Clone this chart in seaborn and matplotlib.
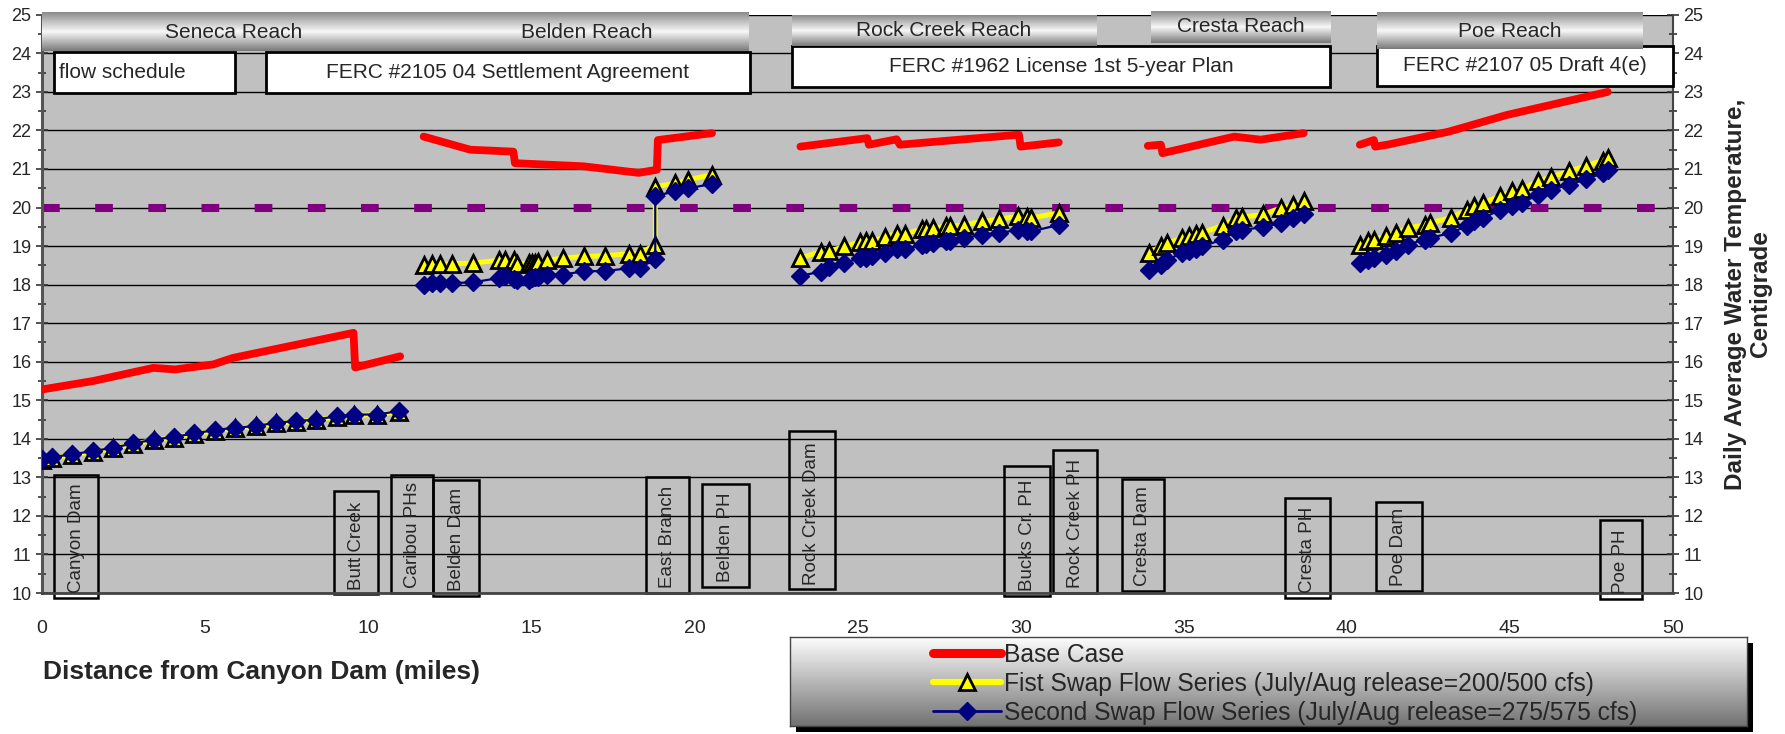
import numpy as np
import pandas as pd
import matplotlib
matplotlib.use('Agg')
import matplotlib.pyplot as plt
from matplotlib.patches import Rectangle
from matplotlib.lines import Line2D
import seaborn as sns

# ---- data ----
# Base case (red), one line per reach
base_reach = (['Seneca'] * 9 + ['Belden'] * 9 + ['Rock'] * 8
              + ['Cresta'] * 6 + ['Poe'] * 7)
base_mile = [0.0, 1.57, 3.41, 4.08, 5.25, 5.86, 9.55, 9.6, 10.98,
             11.7, 13.13, 14.45, 14.5, 16.6, 18.29, 18.85, 18.88, 20.54,
             23.25, 25.3, 25.35, 26.2, 26.3, 29.95, 30.0, 31.17,
             33.9, 34.3, 34.35, 36.55, 37.36, 38.68,
             40.4, 40.83, 40.87, 41.24, 43.13, 44.9, 48.0]
base_temp = [15.28, 15.5, 15.84, 15.8, 15.93, 16.1, 16.75, 15.85, 16.14,
             21.84, 21.5, 21.45, 21.15, 21.07, 20.9, 20.98, 21.75, 21.93,
             21.58, 21.8, 21.63, 21.77, 21.63, 21.89, 21.58, 21.69,
             21.6, 21.63, 21.41, 21.84, 21.76, 21.93,
             21.63, 21.75, 21.58, 21.63, 21.97, 22.4, 23.0]

# Swap flow series (same stations for both)
swap_reach = (['Seneca'] * 19 + ['Belden'] * 24 + ['Rock'] * 22
              + ['Cresta'] * 14 + ['Poe'] * 21)
swap_mile = [0.0, 0.3, 0.91, 1.55, 2.18, 2.8, 3.43, 4.05, 4.67, 5.31,
             5.92, 6.55, 7.18, 7.79, 8.41, 9.04, 9.55, 10.27, 10.93,
             11.7, 11.95, 12.19, 12.57, 13.21, 14.0, 14.2, 14.46, 14.56, 14.92,
             15.02, 15.12, 15.22, 15.48, 15.97, 16.63, 17.27, 18.01, 18.32, 18.8,
             18.8, 19.42, 19.8, 20.54,
             23.23, 23.87, 24.12, 24.6, 25.07, 25.25, 25.45, 25.83, 26.2, 26.47,
             26.99, 27.11, 27.32, 27.7, 27.83, 28.27, 28.83, 29.34, 29.92, 30.21,
             30.33, 31.17,
             33.94, 34.29, 34.5, 34.96, 35.16, 35.37, 35.57, 36.19, 36.6, 36.8,
             37.42, 37.99, 38.36, 38.68,
             40.4, 40.66, 40.82, 41.19, 41.51, 41.87, 42.4, 42.55, 43.18, 43.7,
             43.91, 44.18, 44.7, 45.07, 45.38, 45.86, 46.27, 46.8, 47.32, 47.84, 48.0]
swap1_temp = [13.46, 13.5, 13.58, 13.66, 13.75, 13.86, 13.96, 14.03, 14.12, 14.21,
              14.27, 14.32, 14.4, 14.44, 14.49, 14.57, 14.61, 14.62, 14.7,
              18.52, 18.53, 18.53, 18.54, 18.56, 18.63, 18.65, 18.65, 18.54, 18.56,
              18.56, 18.57, 18.58, 18.63, 18.69, 18.73, 18.75, 18.8, 18.8, 19.04,
              20.54, 20.63, 20.72, 20.85,
              18.69, 18.85, 18.86, 18.99, 19.1, 19.12, 19.12, 19.24, 19.32, 19.32,
              19.44, 19.44, 19.47, 19.51, 19.51, 19.55, 19.64, 19.7, 19.77, 19.75,
              19.73, 19.86,
              18.82, 18.99, 19.08, 19.21, 19.25, 19.32, 19.35, 19.53, 19.73, 19.75,
              19.82, 19.99, 20.07, 20.16,
              19.04, 19.12, 19.17, 19.25, 19.34, 19.47, 19.55, 19.6, 19.73, 19.94,
              20.03, 20.12, 20.3, 20.42, 20.48, 20.68, 20.79, 20.94, 21.08, 21.22, 21.28]
swap2_temp = [13.47, 13.52, 13.6, 13.68, 13.77, 13.88, 13.98, 14.05, 14.14, 14.23,
              14.29, 14.33, 14.42, 14.46, 14.5, 14.59, 14.63, 14.63, 14.72,
              18.0, 18.04, 18.04, 18.04, 18.06, 18.17, 18.22, 18.15, 18.13, 18.13,
              18.16, 18.2, 18.2, 18.26, 18.26, 18.35, 18.35, 18.43, 18.43, 18.66,
              20.3, 20.42, 20.5, 20.61,
              18.22, 18.34, 18.47, 18.56, 18.69, 18.69, 18.73, 18.82, 18.92, 18.92,
              19.04, 19.06, 19.08, 19.12, 19.12, 19.21, 19.3, 19.34, 19.42, 19.38,
              19.38, 19.55,
              18.39, 18.52, 18.65, 18.82, 18.86, 18.92, 18.99, 19.17, 19.38, 19.42,
              19.49, 19.6, 19.73, 19.82,
              18.56, 18.65, 18.69, 18.78, 18.86, 19.04, 19.17, 19.21, 19.34, 19.53,
              19.64, 19.73, 19.94, 20.03, 20.13, 20.33, 20.46, 20.59, 20.73, 20.89, 20.98]

target_temp = 20

# landmarks along the river (mile span and box height in deg C)
site_names = ['Canyon Dam', 'Butt Creek', 'Caribou PHs', 'Belden Dam', 'East Branch',
              'Belden PH', 'Rock Creek Dam', 'Bucks Cr. PH', 'Rock Creek PH',
              'Cresta Dam', 'Cresta PH', 'Poe Dam', 'Poe PH']
site_left = [0.38, 8.96, 10.7, 11.99, 18.52, 20.23, 22.9, 29.5, 31.0, 33.1, 38.1, 40.9, 47.75]
site_right = [1.71, 10.3, 11.99, 13.4, 19.84, 21.66, 24.3, 30.9, 32.35, 34.4, 39.5, 42.3, 49.06]
site_top = [13.06, 12.64, 13.06, 12.93, 13.0, 12.84, 14.2, 13.3, 13.7, 12.95, 12.47, 12.35, 11.9]
site_bottom = [9.88, 9.97, 10.0, 9.93, 10.0, 10.16, 10.1, 9.93, 10.0, 10.05, 9.87, 10.05, 9.85]

reach_names = ['Seneca Reach', 'Belden Reach', 'Rock Creek Reach', 'Cresta Reach', 'Poe Reach']
reach_start = [0.0, 11.75, 22.98, 34.0, 40.92]
reach_end = [11.75, 21.68, 32.3, 39.5, 49.05]
reach_top = [25.05, 25.05, 25.0, 25.1, 25.05]
reach_bottom = [24.05, 24.05, 24.2, 24.27, 24.1]

plan_names = ['flow schedule', 'FERC #2105 04 Settlement Agreement',
              'FERC #1962 License 1st 5-year Plan', 'FERC #2107 05 Draft 4(e)']
plan_start = [0.38, 6.87, 22.98, 40.92]
plan_end = [5.92, 21.7, 39.5, 50.0]
plan_top = [24.04, 24.04, 24.19, 24.2]
plan_bottom = [22.97, 22.97, 23.12, 23.15]

legend_labels = ['Base Case',
                 'Fist Swap Flow Series (July/Aug release=200/500 cfs)',
                 'Second Swap Flow Series (July/Aug release=275/575 cfs)']

# ---- plot ----
sns.set_style('white')
plt.rcParams['font.family'] = ['Liberation Sans', 'DejaVu Sans']

base_df = pd.DataFrame({'reach': base_reach, 'mile': base_mile, 'temp': base_temp})
swap_df = pd.DataFrame({'reach': swap_reach, 'mile': swap_mile,
                        'swap1': swap1_temp, 'swap2': swap2_temp})

W, H = 1785, 734
fig = plt.figure(figsize=(W / 100, H / 100), dpi=100)
ax = fig.add_axes([42 / W, 1 - 593 / H, (1673 - 42) / W, (593 - 14.8) / H])
ax.set_facecolor('#c0c0c0')

ax.axhline(target_temp, color='#800080', lw=5.8, dashes=(2.2, 4.4),
           dash_capstyle='butt', zorder=2)

sns.lineplot(data=base_df, x='mile', y='temp', units='reach', estimator=None, sort=False,
             color='red', lw=5.6, solid_capstyle='round', solid_joinstyle='round',
             ax=ax, zorder=3)
sns.lineplot(data=swap_df, x='mile', y='swap1', units='reach', estimator=None, sort=False,
             color='yellow', lw=3.6, marker='^', markersize=11.5, markerfacecolor='yellow',
             markeredgecolor='black', markeredgewidth=2, ax=ax, zorder=4)
sns.lineplot(data=swap_df, x='mile', y='swap2', units='reach', estimator=None, sort=False,
             color='#000080', lw=1.6, marker='D', markersize=9.5, markerfacecolor='#000080',
             markeredgecolor='#000080', markeredgewidth=1, ax=ax, zorder=5)

# landmark boxes
for name, x0, x1, yt, yb in zip(site_names, site_left, site_right, site_top, site_bottom):
    ax.add_patch(Rectangle((x0, yb), x1 - x0, yt - yb, fill=False, ec='black',
                           lw=1.8, zorder=2.5, clip_on=False))
    ax.text((x0 + x1) / 2, yb + 0.12, name, rotation=90, ha='center', va='bottom',
            fontsize=13.5, zorder=2.6)

# license / plan boxes
for i, (name, x0, x1, yt, yb) in enumerate(zip(plan_names, plan_start, plan_end, plan_top, plan_bottom)):
    ax.add_patch(Rectangle((x0, yb), x1 - x0, yt - yb, fc='white', ec='black',
                           lw=2, zorder=6, clip_on=False))
    if i == 0:
        ax.text(x0 + 0.15, (yt + yb) / 2, name, ha='left', va='center', fontsize=15, zorder=6.5)
    else:
        ax.text((x0 + x1) / 2, (yt + yb) / 2, name, ha='center', va='center', fontsize=15, zorder=6.5)

# reach header bars with metallic shading
bar_shade = np.interp(np.linspace(0, 1, 64), [0, 0.5, 1], [0.55, 0.97, 0.48])[:, None]
for name, x0, x1, yt, yb in zip(reach_names, reach_start, reach_end, reach_top, reach_bottom):
    ax.imshow(bar_shade, cmap='gray', vmin=0, vmax=1, extent=(x0, x1, yb, yt),
              aspect='auto', origin='upper', zorder=7, clip_on=False)
    ax.text((x0 + x1) / 2, (yt + yb) / 2, name, ha='center', va='center', fontsize=15, zorder=8)

ax.set_xlim(0, 50)
ax.set_ylim(10, 25)
ax.set_xlabel('')
ax.set_ylabel('')
ax.set_xticks(range(0, 51, 5))
ax.set_xticks(range(0, 51), minor=True)
ax.set_yticks(range(10, 26))
ax.set_yticks(np.arange(10, 25.01, 0.5), minor=True)
ax.tick_params(axis='both', which='both', direction='inout', color='#333333', width=1.2)
ax.tick_params(axis='x', which='major', length=9, labelsize=14, pad=15)
ax.tick_params(axis='x', which='minor', length=7)
ax.tick_params(axis='y', which='major', length=9, labelsize=13, left=True, right=True,
               labelleft=True, labelright=True, pad=3)
ax.tick_params(axis='y', which='minor', length=6, left=True, right=True)
ax.grid(axis='y', which='major', color='black', lw=1)
ax.grid(axis='x', visible=False)
ax.set_axisbelow(True)
ax.spines['top'].set_visible(False)
ax.spines['left'].set_color('#555555')
ax.spines['left'].set_linewidth(2.2)
ax.spines['bottom'].set_color('#444444')
ax.spines['bottom'].set_linewidth(2)
ax.spines['right'].set_color('#444444')
ax.spines['right'].set_linewidth(1.5)

fig.text(43 / W, 1 - 672 / H, 'Distance from Canyon Dam (miles)', fontsize=19,
         fontweight='bold', ha='left', va='center')
fig.text(1748 / W, 1 - 294 / H, 'Daily Average Water Temperature,\nCentigrade', rotation=90,
         ha='center', va='center', fontsize=17.5, fontweight='bold', linespacing=1.15,
         multialignment='center')

# legend box with gradient and drop shadow
lx0, ly0, lwid, lht = 790 / W, 1 - 726 / H, (1747 - 790) / W, (726 - 637) / H
fig.add_artist(Rectangle((lx0 + 6 / W, ly0 - 6 / H), lwid, lht, transform=fig.transFigure,
                         fc='black', ec='none', zorder=-1))
lax = fig.add_axes([lx0, ly0, lwid, lht])
lax.imshow(np.linspace(0.99, 0.45, 64)[:, None], cmap='gray', vmin=0, vmax=1,
           aspect='auto', extent=(0, 1, 0, 1))
lax.set_xticks([])
lax.set_yticks([])
for s in lax.spines.values():
    s.set_color('#444444')
    s.set_linewidth(1)

handles = [Line2D([], [], color='red', lw=6.5, solid_capstyle='round'),
           Line2D([], [], color='yellow', lw=4.5, marker='^', ms=11, mfc='yellow',
                  mec='black', mew=2),
           Line2D([], [], color='#000080', lw=2, marker='D', ms=9, mfc='#000080', mec='#000080')]
fig.legend(handles, legend_labels, loc='upper left', bbox_to_anchor=(933 / W, 1 - 643 / H),
           bbox_transform=fig.transFigure, frameon=False, fontsize=17.7, handlelength=2.75,
           handletextpad=0.15, labelspacing=0.2, borderpad=0, borderaxespad=0, numpoints=1)

fig.savefig('out.png', dpi=100)
